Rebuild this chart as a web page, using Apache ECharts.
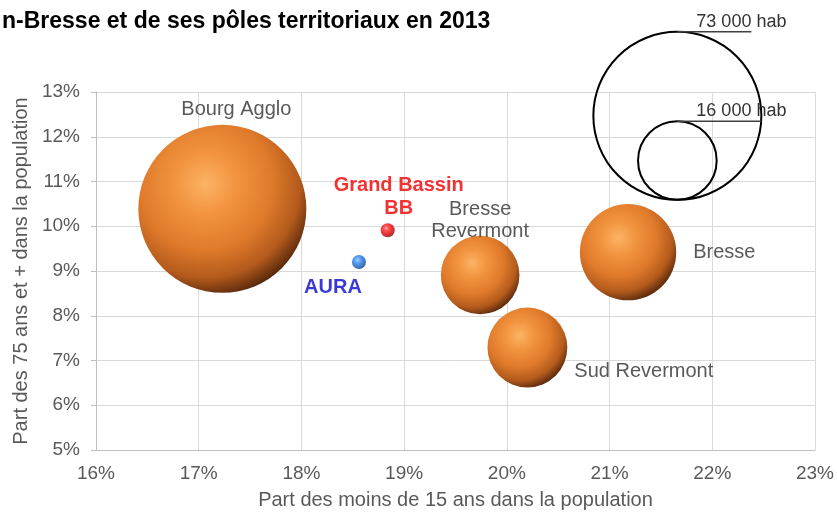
<!DOCTYPE html>
<html>
<head>
<meta charset="utf-8">
<script src="https://cdn.jsdelivr.net/npm/echarts@6/dist/echarts.min.js"></script>
<style>
  html, body { margin: 0; padding: 0; background: #fff; }
  #chart { width: 837px; height: 515px; }
</style>
</head>
<body>
<div id="chart"></div>
<script>
// titre (coupé à gauche comme dans l'original)
const titleText = 'n-Bresse et de ses pôles territoriaux en 2013';
const xAxisName = 'Part des moins de 15 ans dans la population';
const yAxisName = 'Part des 75 ans et + dans la population';

// pôles territoriaux : bulles proportionnelles à la population
const poleNames = ['Bourg Agglo', 'Bresse Revermont', 'Bresse', 'Sud Revermont'];
const poleLabels = ['Bourg Agglo', 'Bresse\nRevermont', 'Bresse', 'Sud Revermont'];
const poleMoins15 = [17.23, 19.74, 21.18, 20.20];
const pole75plus = [10.39, 8.91, 9.42, 7.29];
const polePop = [73000, 16000, 24000, 16500];

// points de référence (taille fixe)
const refNames = ['Grand Bassin BB', 'AURA'];
const refLabels = ['Grand Bassin\nBB', 'AURA'];
const refMoins15 = [18.84, 18.56];
const ref75plus = [9.91, 9.20];

// légende des tailles
const legendPop = [73000, 16000];
const legendLabels = ['73 000 hab', '16 000 hab'];
const legendAnchor = [21.66, 10.59];

const FONT = 'Liberation Sans, Arial, sans-serif';

// diamètre proportionnel à la racine de la population
function bubbleSize(pop) {
    return 168 * Math.sqrt(pop / 73000);
}

//  dégradé "sphère"
function sphere(stops) {
    return new echarts.graphic.RadialGradient(0.4, 0.35, 0.72, stops.map(function (c, i) {
        return {offset: [0, 0.25, 0.55, 0.78, 0.92, 1][i], color: c};
    }));
}

//  position des étiquettes
const poleLabelCfg = {
    'Bourg Agglo': {position: 'top', distance: 4, offset: [14, 0]},
    'Bresse Revermont': {position: 'top', distance: -7, offset: [0, 0]},
    'Bresse': {position: 'right', distance: 17, offset: [0, 0]},
    'Sud Revermont': {position: 'right', distance: 7, offset: [0, 24]}
};
const refLabelCfg = {
    'Grand Bassin BB': {position: 'top', distance: 3, offset: [11, 0], color: '#f00000'},
    'AURA': {position: 'bottom', distance: 7, offset: [-26, 0], color: '#0808d0'}
};
const refColors = {
    'Grand Bassin BB': sphere(['#ff8c8c', '#ff2a2a', '#e60000', '#b80000', '#800000', '#4a0000']),
    'AURA': sphere(['#8fc6ff', '#3d8ff2', '#1a6ad8', '#0f4fa8', '#08337a', '#041d48'])
};

const poleData = poleNames.map(function (name, i) {
    const cfg = poleLabelCfg[name];
    return {
        name: name,
        value: [poleMoins15[i], pole75plus[i], polePop[i]],
        label: {
            show: true,
            formatter: poleLabels[i],
            position: cfg.position,
            distance: cfg.distance,
            offset: cfg.offset,
            color: '#595959',
            fontSize: 20,
            lineHeight: 22,
            fontFamily: FONT
        }
    };
});

const refData = refNames.map(function (name, i) {
    const cfg = refLabelCfg[name];
    return {
        name: name,
        value: [refMoins15[i], ref75plus[i]],
        itemStyle: {color: refColors[name]},
        label: {
            show: true,
            formatter: refLabels[i],
            position: cfg.position,
            distance: cfg.distance,
            offset: cfg.offset,
            color: cfg.color,
            fontSize: 20,
            fontWeight: 'bold',
            lineHeight: 23,
            fontFamily: FONT
        }
    };
});

const chart = echarts.init(document.getElementById('chart'));

const option = {
    backgroundColor: '#ffffff',
    animation: false,
    title: {
        text: titleText,
        left: -3,
        top: 5,
        textStyle: {
            fontSize: 23,
            fontWeight: 'bold',
            color: '#000',
            fontFamily: FONT
        }
    },
    grid: {left: 96, right: 22, top: 92, bottom: 63},
    xAxis: {
        type: 'value',
        min: 16,
        max: 23,
        interval: 1,
        name: xAxisName,
        nameLocation: 'middle',
        nameGap: 40,
        nameTextStyle: {color: '#595959', fontSize: 20, fontFamily: FONT},
        axisLine: {show: true, lineStyle: {color: '#bfbfbf'}},
        axisTick: {show: false},
        axisLabel: {
            formatter: '{value}%',
            color: '#595959',
            fontSize: 19,
            margin: 14,
            fontFamily: FONT
        },
        splitLine: {show: true, lineStyle: {color: '#d9d9d9'}}
    },
    yAxis: {
        type: 'value',
        min: 5,
        max: 13,
        interval: 1,
        name: yAxisName,
        nameLocation: 'middle',
        nameGap: 64,
        nameTextStyle: {color: '#595959', fontSize: 20, fontFamily: FONT},
        axisLine: {show: true, lineStyle: {color: '#bfbfbf'}},
        axisTick: {show: true, length: 5, lineStyle: {color: '#bfbfbf'}},
        axisLabel: {
            formatter: '{value}%',
            color: '#595959',
            fontSize: 19,
            margin: 16,
            fontFamily: FONT
        },
        splitLine: {show: true, lineStyle: {color: '#d9d9d9'}}
    },
    series: [{
        name: 'Pôles',
        type: 'scatter',
        clip: false,
        data: poleData,
        symbolSize: function (val) {
            return bubbleSize(val[2]);
        },
        itemStyle: {
            color: sphere(['#fcb464', '#f29440', '#df7a2a', '#b35a1c', '#66300e', '#261003']),
            opacity: 1
        }
    }, {
        name: 'Références',
        type: 'scatter',
        clip: false,
        z: 3,
        symbolSize: 14,
        data: refData
    }]
};

chart.setOption(option);

//  légende des tailles (cercles vides + étiquettes soulignées)
const base = chart.convertToPixel({xAxisIndex: 0, yAxisIndex: 0}, legendAnchor);
const graphics = [];
legendPop.forEach(function (pop, i) {
    const r = bubbleSize(pop) / 2;
    const top = base[1] - 2 * r;
    graphics.push({
        type: 'circle',
        shape: {cx: base[0], cy: base[1] - r, r: r},
        style: {fill: 'none', stroke: '#000', lineWidth: 2},
        z: 10
    });
    graphics.push({
        type: 'line',
        shape: {x1: base[0], y1: top, x2: base[0] + 74 + i * 10, y2: top},
        style: {stroke: '#404040', lineWidth: 1.5},
        z: 10
    });
    graphics.push({
        type: 'text',
        x: base[0] + 19,
        y: top - 1,
        style: {
            text: legendLabels[i],
            fill: '#333',
            fontSize: 18,
            fontFamily: FONT,
            textVerticalAlign: 'bottom'
        },
        z: 11
    });
});
chart.setOption({graphic: graphics});
</script>
</body>
</html>
